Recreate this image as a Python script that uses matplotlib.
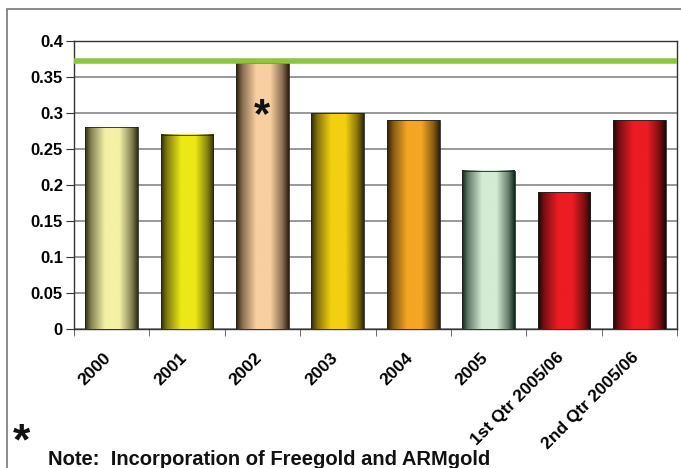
import numpy as np
import matplotlib
matplotlib.use("Agg")
import matplotlib.pyplot as plt
import matplotlib.transforms as mtransforms
from matplotlib.colors import to_rgb
from matplotlib.patches import Rectangle

# dados do grafico
categorias = ["2000", "2001", "2002", "2003", "2004", "2005",
              "1st Qtr 2005/06", "2nd Qtr 2005/06"]
valores = [0.28, 0.27, 0.369, 0.30, 0.29, 0.22, 0.19, 0.29]
linha_verde = 0.372
marcador_ano = "2002"
nota = "Note:  Incorporation of Freegold and ARMgold"

# cores: (centro, borda escura)
cores = [("#f4f1a6", "#2e2e14"), ("#ece816", "#2e2e0c"), ("#f7cfa0", "#2e1e10"),
         ("#f3d010", "#2e260a"), ("#f5a623", "#2e1e08"), ("#d3ecd3", "#0e2418"),
         ("#ec1c24", "#1e0606"), ("#ec1c24", "#1e0606")]

plt.rcParams['font.family'] = ['Liberation Sans', 'DejaVu Sans']
plt.rcParams['font.weight'] = 'bold'

fig = plt.figure(figsize=(6.81, 4.68), dpi=100)
ax = fig.add_axes([74 / 681, 1 - 329 / 468, 603 / 681, 288 / 468])

# moldura externa
fig.patches.append(Rectangle((7 / 681, -0.1), 1.2, 1 - 9 / 468 + 0.1,
                             transform=fig.transFigure, fill=False,
                             edgecolor="#777777", linewidth=1.2, zorder=0))

x = np.arange(len(categorias))
largura = 0.7

# perfil do degrade horizontal
u = np.linspace(0, 1, 200)
t = np.interp(u, [0, 0.12, 0.38, 0.65, 0.88, 1.0], [0.0, 0.45, 1.0, 1.0, 0.45, 0.0])

for i, v in enumerate(valores):
    c = np.array(to_rgb(cores[i][0]))
    d = np.array(to_rgb(cores[i][1]))
    grad = d[None, :] * (1 - t[:, None]) + c[None, :] * t[:, None]
    ax.imshow(grad[None, :, :], extent=[x[i] - largura / 2, x[i] + largura / 2, 0, v],
              aspect='auto', zorder=3, interpolation='bilinear')

ax.bar(x, valores, width=largura, facecolor='none', edgecolor='#222222',
       linewidth=0.6, zorder=4)

ax.axhline(linha_verde, color='#8cc63f', linewidth=4, zorder=5)

ax.set_xlim(-0.5, len(categorias) - 0.5)
ax.set_ylim(0, 0.4)
ax.set_yticks(np.arange(0, 0.401, 0.05))
ax.set_yticklabels(["0", "0.05", "0.1", "0.15", "0.2", "0.25", "0.3", "0.35", "0.4"],
                   fontsize=12, fontweight='bold')
ax.yaxis.grid(True, color='#888888', linewidth=1.2, zorder=1)
ax.set_axisbelow(True)

ax.set_xticks(x)
ax.set_xticklabels(categorias, rotation=45, ha='right', rotation_mode='anchor',
                   fontsize=12.5, fontweight='bold')
ax.tick_params(axis='x', length=0, pad=15)
desloc = mtransforms.ScaledTranslation(-8 / 100, 0, fig.dpi_scale_trans)
for lbl in ax.get_xticklabels():
    lbl.set_transform(lbl.get_transform() + desloc)
ax.set_xticks(np.arange(-0.5, len(categorias), 1), minor=True)
ax.tick_params(axis='x', which='minor', length=5, color='#555555')
ax.tick_params(axis='y', length=6, color='#333333', pad=2)

for s in ax.spines.values():
    s.set_color('#333333')
    s.set_linewidth(1.0)

# asterisco sobre a barra de 2002
i_ast = categorias.index(marcador_ano)
ax.text(x[i_ast], 0.296, "*", ha='center', va='center', fontsize=30,
        fontweight='bold', color='#111111', zorder=6)

fig.text(21 / 681, 1 - 443 / 468, "*", ha='center', va='center', fontsize=32,
         fontweight='bold', color='#111111')
fig.text(48 / 681, 1 - 465 / 468, nota, ha='left', va='baseline', fontsize=14.5,
         fontweight='bold', color='#111111')

fig.savefig("out.png", dpi=100)
